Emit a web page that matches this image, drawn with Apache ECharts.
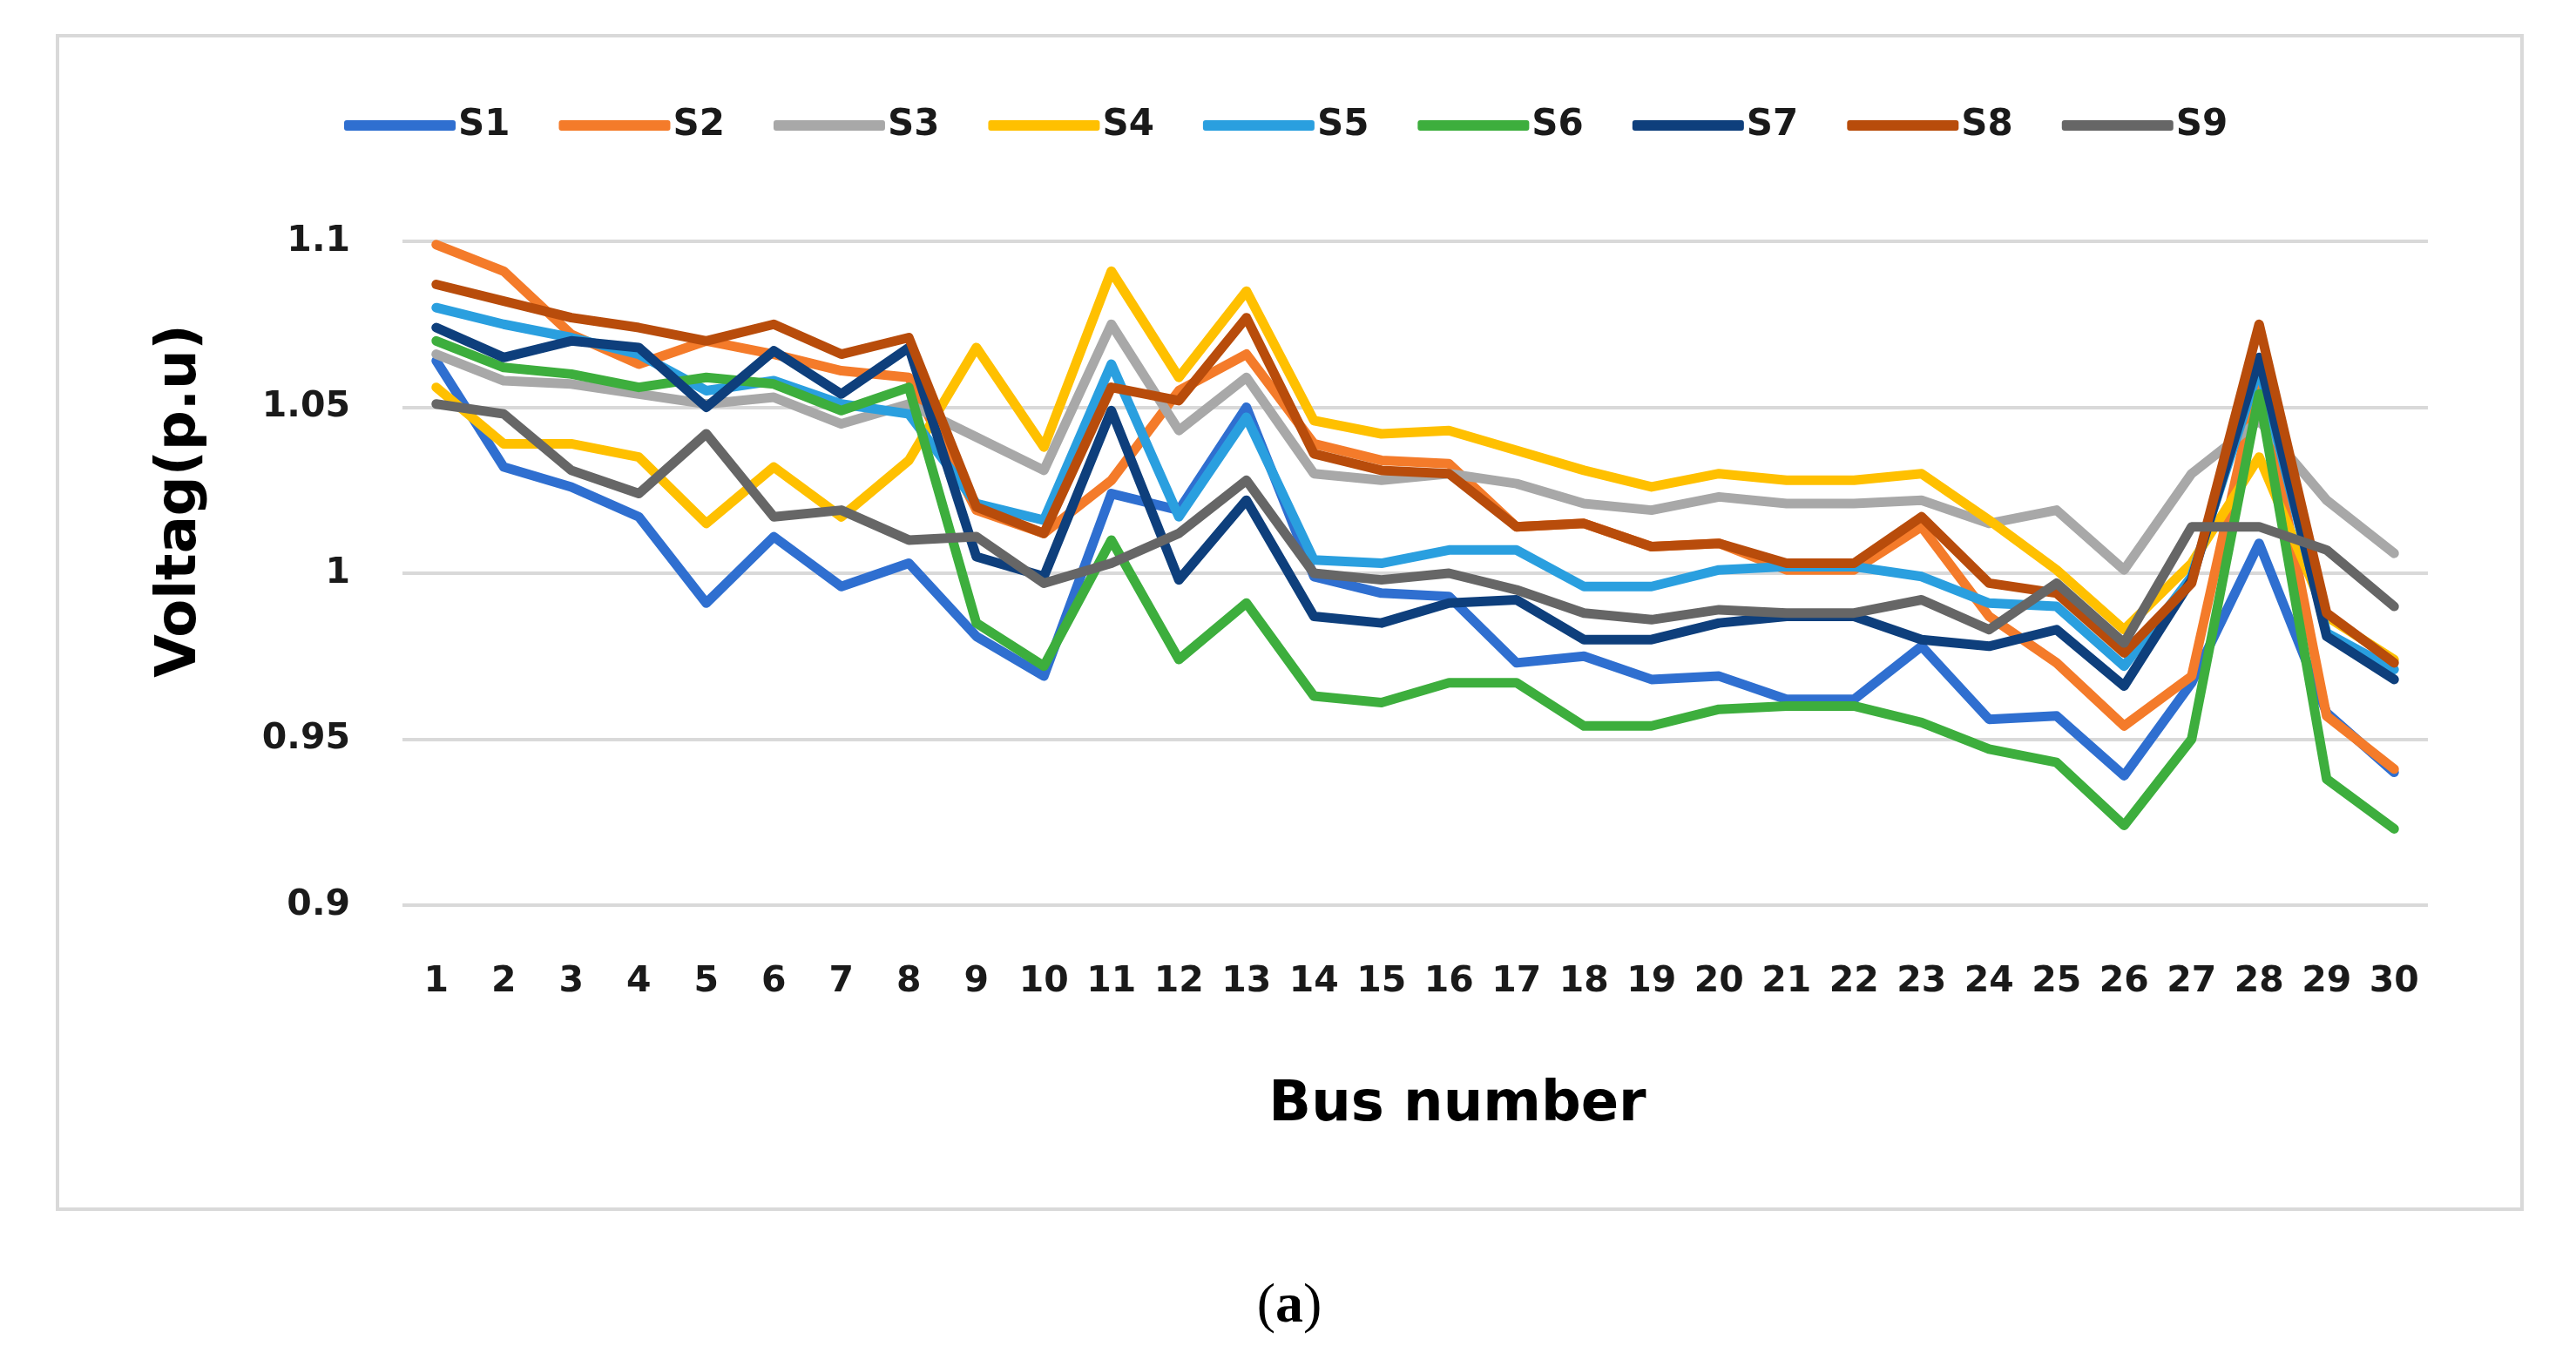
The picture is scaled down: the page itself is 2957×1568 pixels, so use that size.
<!DOCTYPE html>
<html>
<head>
<meta charset="utf-8">
<script src="https://cdn.jsdelivr.net/npm/echarts@6/dist/echarts.min.js"></script>
<style>html,body{margin:0;padding:0;background:#fff;}#chart{width:2957px;height:1568px;}</style>
</head>
<body>
<div id="chart"></div>
<script>
const categories = ['1','2','3','4','5','6','7','8','9','10','11','12','13','14','15','16','17','18','19','20','21','22','23','24','25','26','27','28','29','30'];
const seriesNames = ['S1','S2','S3','S4','S5','S6','S7','S8','S9'];
const S1 = [1.064,1.032,1.026,1.017,0.991,1.011,0.996,1.003,0.981,0.969,1.024,1.019,1.050,0.999,0.994,0.993,0.973,0.975,0.968,0.969,0.962,0.962,0.978,0.956,0.957,0.939,0.967,1.009,0.958,0.940];
const S2 = [1.099,1.091,1.072,1.063,1.070,1.066,1.061,1.059,1.019,1.012,1.028,1.055,1.066,1.039,1.034,1.033,1.014,1.015,1.008,1.009,1.001,1.001,1.014,0.987,0.973,0.954,0.969,1.060,0.957,0.941];
const S3 = [1.066,1.058,1.057,1.054,1.051,1.053,1.045,1.051,1.041,1.031,1.075,1.043,1.059,1.030,1.028,1.030,1.027,1.021,1.019,1.023,1.021,1.021,1.022,1.015,1.019,1.001,1.030,1.046,1.022,1.006];
const S4 = [1.056,1.039,1.039,1.035,1.015,1.032,1.017,1.034,1.068,1.038,1.091,1.059,1.085,1.046,1.042,1.043,1.037,1.031,1.026,1.030,1.028,1.028,1.030,1.016,1.001,0.983,1.003,1.035,0.987,0.974];
const S5 = [1.080,1.075,1.071,1.066,1.055,1.058,1.051,1.048,1.021,1.016,1.063,1.017,1.047,1.004,1.003,1.007,1.007,0.996,0.996,1.001,1.002,1.002,0.999,0.991,0.990,0.972,0.999,1.062,0.982,0.971];
const S6 = [1.070,1.062,1.060,1.056,1.059,1.057,1.049,1.056,0.985,0.972,1.010,0.974,0.991,0.963,0.961,0.967,0.967,0.954,0.954,0.959,0.960,0.960,0.955,0.947,0.943,0.924,0.950,1.054,0.938,0.923];
const S7 = [1.074,1.065,1.070,1.068,1.050,1.067,1.054,1.068,1.005,0.999,1.049,0.998,1.022,0.987,0.985,0.991,0.992,0.980,0.980,0.985,0.987,0.987,0.980,0.978,0.983,0.966,0.998,1.065,0.981,0.968];
const S8 = [1.087,1.082,1.077,1.074,1.070,1.075,1.066,1.071,1.020,1.012,1.056,1.052,1.077,1.036,1.031,1.030,1.014,1.015,1.008,1.009,1.003,1.003,1.017,0.997,0.994,0.976,0.997,1.075,0.988,0.973];
const S9 = [1.051,1.048,1.031,1.024,1.042,1.017,1.019,1.010,1.011,0.997,1.003,1.012,1.028,1.000,0.998,1.000,0.995,0.988,0.986,0.989,0.988,0.988,0.992,0.983,0.997,0.979,1.014,1.014,1.007,0.990];
const yTicks = [0.9, 0.95, 1, 1.05, 1.1];
const seriesData = [S1,S2,S3,S4,S5,S6,S7,S8,S9];
const colors = ['#2F6FD0','#F47B2A','#A8A8A8','#FFC000','#2A9FDF','#3DAE3D','#0E3F7C','#B84C0B','#666666'];

const chart = echarts.init(document.getElementById('chart'));
const option = {
  backgroundColor: '#ffffff',
  color: colors,
  animation: false,
  legend: {
    data: seriesNames,
    left: 390,
    top: 118,
    icon: 'roundRect',
    itemWidth: 128,
    itemHeight: 12,
    itemGap: 56,
    textStyle: {fontFamily: 'DejaVu Sans', fontWeight: 'bold', fontSize: 42, color: '#1a1a1a', padding: [0,0,0,-2]}
  },
  grid: {left: 462, right: 170, top: 277, bottom: 529, containLabel: false},
  xAxis: {
    type: 'category',
    data: categories,
    boundaryGap: true,
    axisLine: {show: false},
    axisTick: {show: false},
    axisLabel: {fontFamily: 'DejaVu Sans', fontWeight: 'bold', fontSize: 41, color: '#1a1a1a', margin: 68, interval: 0}
  },
  yAxis: {
    type: 'value',
    min: 0.9, max: 1.1, interval: 0.05,
    axisLine: {show: false},
    axisTick: {show: false},
    splitLine: {lineStyle: {color: '#d9d9d9', width: 4}},
    axisLabel: {fontFamily: 'DejaVu Sans', fontWeight: 'bold', fontSize: 41, color: '#1a1a1a', margin: 60,
      formatter: function (v) { const t = yTicks.find(x => Math.abs(x - v) < 1e-9); return t === undefined ? '' : String(t); }}
  },
  graphic: [
    {type: 'rect', z: -10, shape: {x: 66, y: 41, width: 2829, height: 1347}, style: {fill: 'none', stroke: '#d9d9d9', lineWidth: 4}},
    {type: 'text', x: 1673, y: 1269, style: {text: 'Bus number', font: 'bold 64px "DejaVu Sans"', fill: '#000', textAlign: 'center', textVerticalAlign: 'middle'}},
    {type: 'text', x: 207, y: 575, rotation: Math.PI / 2, style: {text: 'Voltag(p.u)', font: 'bold 64px "DejaVu Sans"', fill: '#000', textAlign: 'center', textVerticalAlign: 'middle'}},
    {type: 'text', x: 1480, y: 1500, style: {text: '{n|(}{b|a}{n|)}', textAlign: 'center', textVerticalAlign: 'middle',
      rich: {n: {fontFamily: 'Liberation Serif', fontSize: 64, fill: '#000'}, b: {fontFamily: 'Liberation Serif', fontWeight: 'bold', fontSize: 64, fill: '#000'}}}}
  ],
  series: seriesNames.map((name, i) => ({
    name: name,
    type: 'line',
    data: seriesData[i],
    symbol: 'none',
    lineStyle: {width: 11, color: colors[i], cap: 'round', join: 'round'},
    itemStyle: {color: colors[i]}
  }))
};
chart.setOption(option);
</script>
</body>
</html>
